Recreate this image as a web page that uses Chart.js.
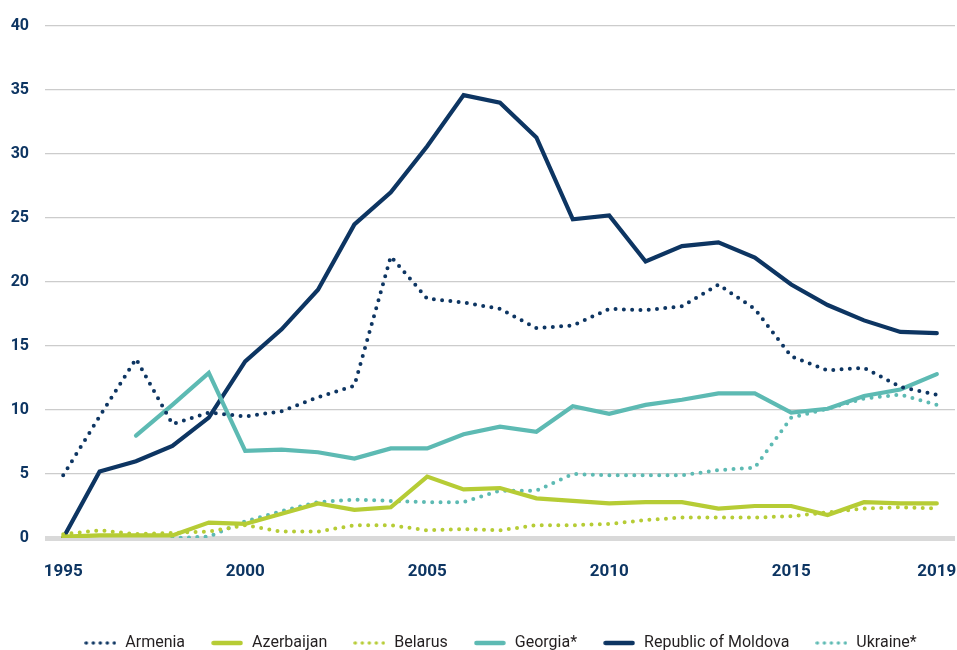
<!DOCTYPE html>
<html>
<head>
<meta charset="utf-8">
<script src="https://cdn.jsdelivr.net/npm/chart.js@4/dist/chart.umd.min.js"></script>
<style>
  html, body { margin: 0; padding: 0; background: #fff; }
  #wrap { width: 957px; height: 650px; position: relative; }
</style>
</head>
<body>
<div id="wrap"><canvas id="remitChart"></canvas></div>
<script>
// years on the x axis, only some of them get a label
const years = ['1995', '1996', '1997', '1998', '1999', '2000', '2001', '2002', '2003', '2004',
  '2005', '2006', '2007', '2008', '2009', '2010', '2011', '2012', '2013', '2014',
  '2015', '2016', '2017', '2018', '2019'];
const labelYears = ['1995', '2000', '2005', '2010', '2015', '2019'];
const yTicks = [0, 5, 10, 15, 20, 25, 30, 35, 40];

// values
const armenia = [4.9, 9.5, 14.0, 8.9, 9.8, 9.5, 9.9, 11.0, 11.9, 22.0, 18.7, 18.4, 17.9, 16.4, 16.6, 17.9, 17.8, 18.1, 19.8, 17.9, 14.2, 13.1, 13.3, 11.8, 11.2];
const azerbaijan = [0.1, 0.2, 0.2, 0.2, 1.2, 1.1, 1.9, 2.7, 2.2, 2.4, 4.8, 3.8, 3.9, 3.1, 2.9, 2.7, 2.8, 2.8, 2.3, 2.5, 2.5, 1.8, 2.8, 2.7, 2.7];
const belarus = [0.3, 0.6, 0.3, 0.4, 0.5, 1.0, 0.5, 0.5, 1.0, 1.0, 0.6, 0.7, 0.6, 1.0, 1.0, 1.1, 1.4, 1.6, 1.6, 1.6, 1.7, 2.0, 2.3, 2.4, 2.3];
const georgia = [null, null, 8.0, 10.4, 12.9, 6.8, 6.9, 6.7, 6.2, 7.0, 7.0, 8.1, 8.7, 8.3, 10.3, 9.7, 10.4, 10.8, 11.3, 11.3, 9.8, 10.1, 11.1, 11.6, 12.8];
const moldova = [0, 5.2, 6.0, 7.2, 9.4, 13.8, 16.3, 19.4, 24.5, 27.0, 30.6, 34.6, 34.0, 31.3, 24.9, 25.2, 21.6, 22.8, 23.1, 21.9, 19.8, 18.2, 17.0, 16.1, 16.0];
const ukraine = [null, null, null, 0.0, 0.1, 1.3, 2.1, 2.8, 3.0, 2.9, 2.8, 2.8, 3.7, 3.7, 5.0, 4.9, 4.9, 4.9, 5.3, 5.5, 9.4, 10.1, 10.9, 11.2, 10.4];

const NAVY = '#0d3562';
const TEAL = '#5dbab3';
const GREEN = '#b6cc35';
const DOTS = [0, 8.3];

// small pictures for the legend
function marker(color, dotted) {
    const c = document.createElement('canvas');
    c.width = 32; c.height = 6;
    const g = c.getContext('2d');
    g.strokeStyle = color;
    g.lineCap = 'round';
    g.beginPath();
    if (dotted) {
        g.lineWidth = 3.5;
        g.setLineDash([0, 7]);
        g.moveTo(2, 3); g.lineTo(31, 3);
    } else {
        g.lineWidth = 4.5;
        g.moveTo(2.5, 3); g.lineTo(29.5, 3);
    }
    g.stroke();
    return c;
}

function series(label, data, color, dotted) {
    return {
        label: label,
        data: data,
        borderColor: color,
        backgroundColor: color,
        borderWidth: dotted ? 4 : 4.2,
        borderDash: dotted ? DOTS : [],
        borderCapStyle: 'round',
        borderJoinStyle: dotted ? 'round' : 'miter',
        pointRadius: 0,
        tension: 0,
        fill: false,
        legendMarker: marker(color, dotted)
    };
}

const legendTweak = {
    id: 'legendTweak',
    beforeLayout(chart) {
        const l = chart.legend;
        if (l && !l._tweaked) {
            const fit = l.fit;
            l.fit = function () { fit.call(this); this.height = 40; };
            l._tweaked = true;
        }
    },
    afterLayout(chart) {
        // center legend on the plot area, not the whole canvas
        const l = chart.legend, ca = chart.chartArea;
        const shift = (ca.left + ca.right) / 2 - (l.left + l.right) / 2;
        l.left += shift; l.right += shift;
    }
};

const ctx = document.getElementById('remitChart').getContext('2d');
new Chart(ctx, {
    type: 'line',
    data: {
        labels: years,
        datasets: [
            series('Armenia', armenia, NAVY, true),
            series('Azerbaijan', azerbaijan, GREEN, false),
            series('Belarus', belarus, GREEN, true),
            series('Georgia*', georgia, TEAL, false),
            series('Republic of Moldova', moldova, NAVY, false),
            series('Ukraine*', ukraine, TEAL, true)
        ]
    },
    plugins: [legendTweak],
    options: {
        responsive: true,
        maintainAspectRatio: false,
        animation: false,
        events: [],
        layout: { padding: { top: 26, left: 9, right: 2, bottom: 0 } },
        plugins: {
            tooltip: { enabled: false },
            legend: {
                position: 'bottom',
                labels: {
                    usePointStyle: true,
                    pointStyleWidth: 34,
                    padding: 25,
                    color: '#231f20',
                    font: { family: 'Roboto', size: 16 },
                    generateLabels(chart) {
                        return chart.data.datasets.map((ds, i) => ({
                            text: ds.label,
                            pointStyle: ds.legendMarker,
                            fillStyle: 'transparent',
                            strokeStyle: 'transparent',
                            lineWidth: 0,
                            fontColor: '#231f20',
                            hidden: false,
                            datasetIndex: i
                        }));
                    }
                }
            }
        },
        scales: {
            x: {
                type: 'category',
                offset: true,
                grid: { display: false, drawTicks: true, tickLength: 24 },
                border: { display: false },
                afterFit(scale) { scale.height = 72; },
                ticks: {
                    autoSkip: false,
                    maxRotation: 0,
                    padding: 0,
                    color: NAVY,
                    font: { family: 'Roboto', weight: 'bold', size: 17 },
                    callback(v, i) { return labelYears.includes(years[i]) ? years[i] : ''; }
                }
            },
            y: {
                min: yTicks[0],
                max: yTicks[yTicks.length - 1],
                afterFit(scale) { scale.width = 36; },
                afterBuildTicks(scale) { scale.ticks = yTicks.map(v => ({ value: v })); },
                grid: {
                    drawTicks: false,
                    color: c => c.tick.value === 0 ? '#d9d9d9' : '#cccccc',
                    lineWidth: c => c.tick.value === 0 ? 5 : 1.2
                },
                border: { display: false },
                ticks: {
                    padding: 16,
                    color: NAVY,
                    font: { family: 'Roboto', weight: 'bold', size: 16 }
                }
            }
        }
    }
});
</script>
</body>
</html>
